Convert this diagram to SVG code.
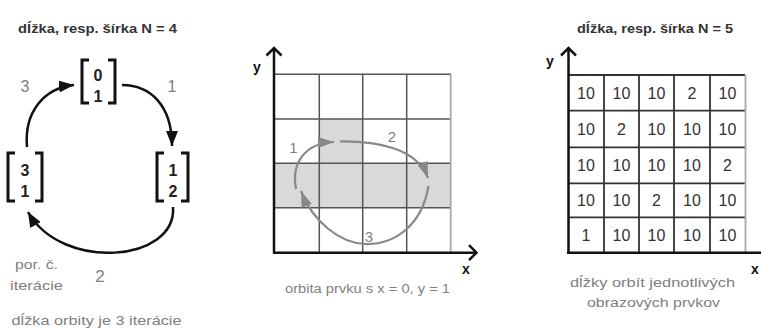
<svg xmlns="http://www.w3.org/2000/svg" width="761" height="329" viewBox="0 0 761 329">
<style>
text{font-family:"Liberation Sans",Arial,sans-serif}
.title{font-weight:bold;font-size:12.5px;fill:#333}
.cap{font-size:13px;fill:#808080}
.lbl{font-size:16px;fill:#808080}
.mnum{font-size:16px;font-weight:bold;fill:#222}
.br{fill:none;stroke:#111;stroke-width:3}
.arr{fill:none;stroke:#111;stroke-width:2.5}
.orb{fill:none;stroke:#888;stroke-width:2.2}
.grid{stroke:#555;stroke-width:1.5;fill:none}
.grid2{stroke:#333;stroke-width:1.8;fill:none}
.axis{stroke:#111;stroke-width:2.5;fill:none}
.axl{font-size:14px;font-weight:bold;fill:#111}
.cell{font-size:16px;fill:#333;text-anchor:middle}
</style>
<defs>
<marker id="ah" markerUnits="userSpaceOnUse" markerWidth="16" markerHeight="12" refX="15" refY="6" orient="auto">
<path d="M0,0 L15,6 L0,12 z" fill="#111"/>
</marker>
<marker id="ag" markerUnits="userSpaceOnUse" markerWidth="17" markerHeight="11" refX="16" refY="5.5" orient="auto">
<path d="M0,0 L16,5.5 L0,11 z" fill="#888"/>
</marker>
</defs>

<!-- Left panel -->
<text class="title" x="18" y="33" textLength="159" lengthAdjust="spacingAndGlyphs">dĺžka, resp. šírka N = 4</text>

<g id="m01">
<path class="br" d="M89,60 H82 V103 H89"/>
<path class="br" d="M108,60 H115 V103 H108"/>
<text class="mnum" x="98" y="81" text-anchor="middle">0</text>
<text class="mnum" x="98" y="101.5" text-anchor="middle">1</text>
</g>
<g id="m12">
<path class="br" d="M164,153 H157 V201 H164"/>
<path class="br" d="M181,153 H188 V201 H181"/>
<text class="mnum" x="173" y="175.5" text-anchor="middle">1</text>
<text class="mnum" x="173" y="196.5" text-anchor="middle">2</text>
</g>
<g id="m31">
<path class="br" d="M15,153 H8 V201 H15"/>
<path class="br" d="M35,153 H42 V201 H35"/>
<text class="mnum" x="25" y="175.5" text-anchor="middle">3</text>
<text class="mnum" x="25" y="196.5" text-anchor="middle">1</text>
</g>

<g id="connectors">
<path class="arr" d="M122,85 C150,85 172,105 172,146" marker-end="url(#ah)"/>
<path class="arr" d="M173,207 C177,262 62,272 28,212" marker-end="url(#ah)"/>
<path class="arr" d="M27,147 C24,112 44,88 74,85" marker-end="url(#ah)"/>
</g>

<text class="lbl" x="25" y="91.5" text-anchor="middle">3</text>
<text class="lbl" x="172" y="91.5" text-anchor="middle">1</text>
<text class="lbl" x="100" y="282" text-anchor="middle" style="font-size:17px">2</text>
<text class="cap" x="15" y="269" textLength="43" lengthAdjust="spacingAndGlyphs">por. č.</text>
<text class="cap" x="10" y="290" textLength="53" lengthAdjust="spacingAndGlyphs">iterácie</text>
<text class="cap" x="11.5" y="325" textLength="170" lengthAdjust="spacingAndGlyphs">dĺžka orbity je 3 iterácie</text>

<!-- Middle panel -->
<g id="grid4">
<rect x="319" y="119" width="44" height="44.3" fill="#d9d9d9"/>
<rect x="274" y="163.3" width="177" height="44.4" fill="#d9d9d9"/>
<path class="grid" d="M274,74.3 H451 M274,119 H451 M274,163.3 H451 M274,207.7 H451 M319.3,74.3 V252.5 M362.7,74.3 V252.5 M406.7,74.3 V252.5"/>
<path d="M450.7,74.3 V252.5" stroke="#aaa" stroke-width="1.8"/>
<path class="axis" d="M274,253 V48 M266.5,55.5 L274,48 L281.5,55.5"/>
<path class="axis" d="M273,252.7 H476 M469,245.2 L476.5,252.7 L469,260.2"/>
<text class="axl" x="253" y="72">y</text>
<text class="axl" x="462" y="274">x</text>
</g>
<g id="orbit">
<path class="orb" d="M296,189 C291,163 305,143 334,142" marker-end="url(#ag)"/>
<path class="orb" d="M340,141.5 C376,141 417,148 428,178" marker-end="url(#ag)"/>
<path class="orb" d="M428.5,186 C422,225 395,245 365,244 C340,243 313,222 301,191" marker-end="url(#ag)"/>
</g>
<text class="lbl" x="293.5" y="153" text-anchor="middle" style="font-size:15px">1</text>
<text class="lbl" x="392" y="141.5" text-anchor="middle" style="font-size:15px">2</text>
<text class="lbl" x="369" y="241.5" text-anchor="middle" style="font-size:15px">3</text>
<text class="cap" x="285" y="293" textLength="165" lengthAdjust="spacingAndGlyphs">orbita prvku s x = 0, y = 1</text>

<!-- Right panel -->
<text class="title" x="577" y="33" textLength="156" lengthAdjust="spacingAndGlyphs">dĺžka, resp. šírka N = 5</text>
<g id="grid5">
<path class="grid2" d="M568,75 H745 M568,110.7 H745 M568,147.3 H745 M568,183.3 H745 M568,217.3 H745 M604,75 V252.7 M639,75 V252.7 M674,75 V252.7 M710,75 V252.7"/>
<path d="M745.5,75 V252.7" stroke="#aaa" stroke-width="1.8"/>
<path class="axis" d="M568.5,254 V48 M561,55.5 L568.5,48 L576,55.5"/>
<path class="axis" d="M567,252.7 H761"/>
<text class="axl" x="546" y="66">y</text>
<text class="axl" x="751" y="274">x</text>
<g>
<text class="cell" x="586" y="98.5">10</text>
<text class="cell" x="621.5" y="98.5">10</text>
<text class="cell" x="656.5" y="98.5">10</text>
<text class="cell" x="692" y="98.5">2</text>
<text class="cell" x="727.5" y="98.5">10</text>
<text class="cell" x="586" y="134.5">10</text>
<text class="cell" x="621.5" y="134.5">2</text>
<text class="cell" x="656.5" y="134.5">10</text>
<text class="cell" x="692" y="134.5">10</text>
<text class="cell" x="727.5" y="134.5">10</text>
<text class="cell" x="586" y="171">10</text>
<text class="cell" x="621.5" y="171">10</text>
<text class="cell" x="656.5" y="171">10</text>
<text class="cell" x="692" y="171">10</text>
<text class="cell" x="727.5" y="171">2</text>
<text class="cell" x="586" y="206">10</text>
<text class="cell" x="621.5" y="206">10</text>
<text class="cell" x="656.5" y="206">2</text>
<text class="cell" x="692" y="206">10</text>
<text class="cell" x="727.5" y="206">10</text>
<text class="cell" x="586" y="240.5">1</text>
<text class="cell" x="621.5" y="240.5">10</text>
<text class="cell" x="656.5" y="240.5">10</text>
<text class="cell" x="692" y="240.5">10</text>
<text class="cell" x="727.5" y="240.5">10</text>
</g>
</g>
<text class="cap" x="570" y="287" textLength="165" lengthAdjust="spacingAndGlyphs">dĺžky orbít jednotlivých</text>
<text class="cap" x="587" y="307" textLength="133" lengthAdjust="spacingAndGlyphs">obrazových prvkov</text>
</svg>
